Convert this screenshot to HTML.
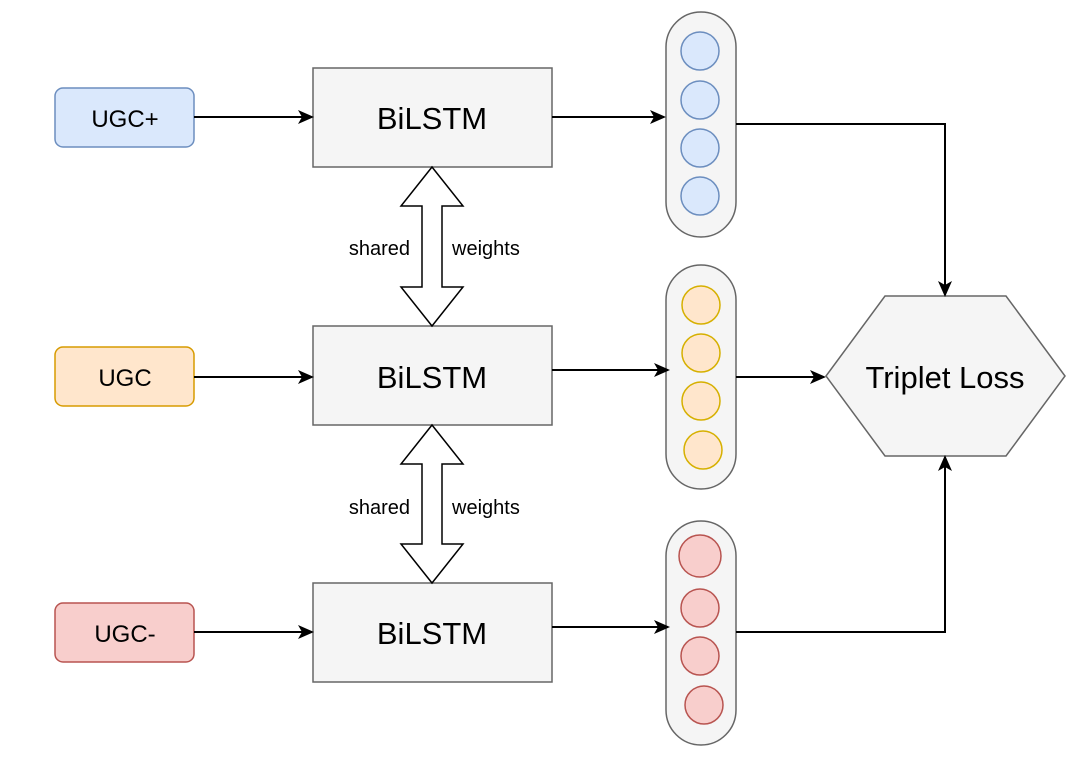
<!DOCTYPE html>
<html><head><meta charset="utf-8"><style>body{margin:0;background:#fff}svg{display:block}text{font-family:"Liberation Sans",sans-serif;fill:#000}</style></head><body>
<svg width="1080" height="760" viewBox="0 0 1080 760">
<defs><marker id="a" markerWidth="16" markerHeight="16" refX="14" refY="8" orient="auto" markerUnits="userSpaceOnUse"><path d="M0,1 L16,8 L0,15 L4,8 Z" fill="#000"/></marker></defs>
<g stroke-width="1.5">
<rect x="55" y="88" width="139" height="59" rx="8" fill="#dae8fc" stroke="#6c8ebf"/>
<rect x="55" y="347" width="139" height="59" rx="8" fill="#ffe6cc" stroke="#d79b00"/>
<rect x="55" y="603" width="139" height="59" rx="8" fill="#f8cecc" stroke="#b85450"/>
<rect x="313" y="68" width="239" height="99" fill="#f5f5f5" stroke="#666"/>
<rect x="313" y="326" width="239" height="99" fill="#f5f5f5" stroke="#666"/>
<rect x="313" y="583" width="239" height="99" fill="#f5f5f5" stroke="#666"/>
<rect x="666" y="12" width="70" height="225" rx="35" fill="#f5f5f5" stroke="#666"/>
<rect x="666" y="265" width="70" height="224" rx="35" fill="#f5f5f5" stroke="#666"/>
<rect x="666" y="521" width="70" height="224" rx="35" fill="#f5f5f5" stroke="#666"/>
<g fill="#dae8fc" stroke="#6c8ebf"><circle cx="700" cy="51" r="19"/><circle cx="700" cy="100" r="19"/><circle cx="700" cy="148" r="19"/><circle cx="700" cy="196" r="19"/></g>
<g fill="#ffe6cc" stroke="#d6b000"><circle cx="701" cy="305" r="19"/><circle cx="701" cy="353" r="19"/><circle cx="701" cy="401" r="19"/><circle cx="703" cy="450" r="19"/></g>
<g fill="#f8cecc" stroke="#b85450"><circle cx="700" cy="556" r="21"/><circle cx="700" cy="608" r="19"/><circle cx="700" cy="656" r="19"/><circle cx="704" cy="705" r="19"/></g>
<polygon points="885,296 1006,296 1065,376 1006,456 885,456 826,376" fill="#f5f5f5" stroke="#666"/>
<polygon points="432,167 463,206 442,206 442,287 463,287 432,326 401,287 422,287 422,206 401,206" fill="#fff" stroke="#000"/>
<polygon points="432,425 463,464 442,464 442,544 463,544 432,583 401,544 422,544 422,464 401,464" fill="#fff" stroke="#000"/>
</g>
<g stroke="#000" stroke-width="2" fill="none" marker-end="url(#a)">
<path d="M194,117 H312"/><path d="M194,377 H312"/><path d="M194,632 H312"/>
<path d="M552,117 H664"/><path d="M552,370 H668"/><path d="M552,627 H668"/>
<path d="M736,124 H945 V295"/><path d="M736,632 H945 V457"/><path d="M736,377 H824"/>
</g>
<g font-size="24" text-anchor="middle">
<text x="125" y="127">UGC+</text><text x="125" y="386">UGC</text><text x="125" y="642">UGC-</text>
</g>
<g font-size="31" text-anchor="middle">
<text x="432" y="129">BiLSTM</text><text x="432" y="388">BiLSTM</text><text x="432" y="644">BiLSTM</text>
<text x="945" y="388">Triplet Loss</text>
</g>
<g font-size="20">
<text x="410" y="255" text-anchor="end">shared</text><text x="452" y="255">weights</text>
<text x="410" y="514" text-anchor="end">shared</text><text x="452" y="514">weights</text>
</g>
</svg></body></html>
